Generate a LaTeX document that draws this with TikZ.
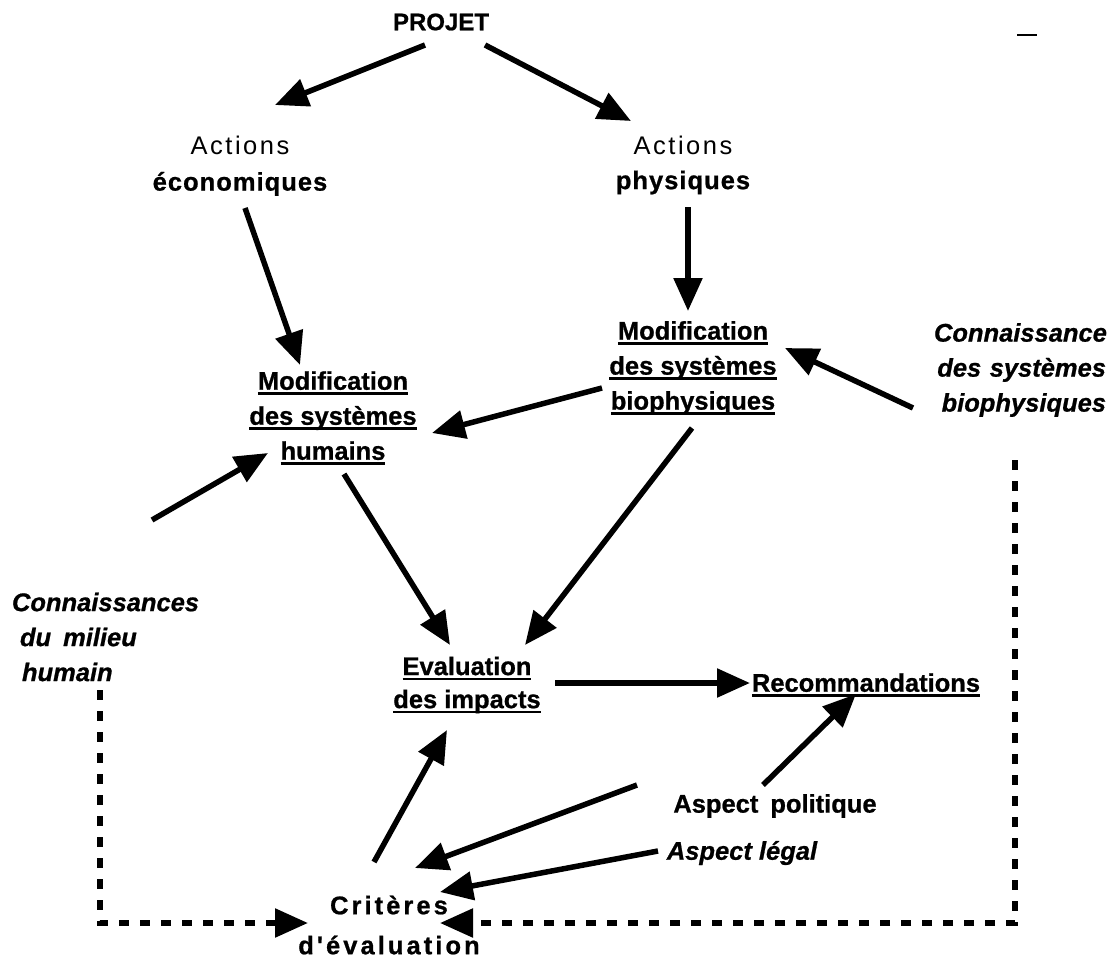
\documentclass[tikz,border=0pt]{standalone}
\usepackage{fontspec}
\setmainfont{Liberation Sans}
\newfontfamily\critfont{Liberation Sans Bold}[LetterSpace=12,FakeBold=0.8]
\usetikzlibrary{arrows.meta,calc}
% underline at a fixed depth, crossing the descenders
\newcommand\ulx[1]{\setbox0\hbox{#1}\rlap{\rule[-5pt]{\wd0}{2.4pt}}\box0}
\newcommand\hv{\bfseries\addfontfeature{FakeBold=0.8}}
\begin{document}
\begin{tikzpicture}[x=1pt,y=-1pt,
  txt/.style={font=\fontsize{25.5}{35}\selectfont\hv, align=center, inner sep=0pt},
  itx/.style={font=\fontsize{25.5}{35}\selectfont\itshape\hv, inner sep=0pt},
  tip/.style={-{Triangle[length=33pt,width=28pt]}},
  arr/.style={line width=5.5pt, tip},
  dsh/.style={line width=5.5pt, dash pattern=on 10pt off 11pt, tip}]
\useasboundingbox (0,0) rectangle (1112,959);

% texts
\node[txt, font=\fontsize{24}{28}\selectfont\hv] (projet) at (441,22) {PROJET};
\node[txt, font=\fontsize{25.5}{36}\selectfont] (acteco) at (240,166)
  {{\addfontfeature{LetterSpace=10}Actions}\\{\hv\addfontfeature{LetterSpace=4}économiques}};
\node[txt, font=\fontsize{25.5}{35}\selectfont] (actphy) at (683,165)
  {{\addfontfeature{LetterSpace=10}Actions}\\{\hv\addfontfeature{LetterSpace=4}physiques}};
\node[txt] (modhum) at (333,418) {\ulx{Modification}\\\ulx{des systèmes}\\\ulx{humains}};
\node[txt] (modbio) at (693,368) {\ulx{Modification}\\\ulx{des systèmes}\\\ulx{biophysiques}};
\node[itx, align=right, text width=172pt] (conbio) at (1020,370)
  {Connaissance\\des systèmes\\biophysiques};
\node[itx, align=left, text width=190pt] (conhum) at (107,637)
  {Connaissances\\\hspace{8pt}du\hspace{12pt}milieu\\\hspace{10pt}humain};
\node[txt, font=\fontsize{25.5}{33}\selectfont\hv] (eval) at (467,685) {\ulx{Evaluation}\\\ulx{des impacts}};
\node[txt] (recom) at (866,685) {\ulx{Recommandations}};
\node[txt] (aspol) at (775,806) {Aspect\hspace{12pt}politique};
\node[itx] (asleg) at (742,853) {Aspect légal};
\node[txt, font=\fontsize{25.5}{40}\critfont] (crit) at (389,925)
  {Critères\\d'évaluation};

% arrows
\draw[arr] ($(projet)+(-16,23)$) -- ($(acteco)+(35,-61)$);
\draw[arr] ($(projet)+(44,23)$) -- ($(actphy)+(-52,-44)$);
\draw[arr] ($(acteco)+(5,42)$) -- ($(modhum)+(-33,-53)$);
\draw[arr] ($(actphy)+(5,42)$) -- ($(modbio)+(-5,-57)$);
\draw[arr] ($(modbio)+(-91,20)$) -- ($(modhum)+(99,15)$);
\draw[arr] ($(conbio)+(-107,38)$) -- ($(modbio)+(92,-20)$);
\draw[arr] ($(modbio)+(-1,60)$) -- ($(eval)+(58,-40)$);
\draw[arr] ($(modhum)+(11,56)$) -- ($(eval)+(-17,-40)$);
\draw[arr] ($(conhum)+(45,-117)$) -- ($(modhum)+(-65,35)$);
\draw[arr] ($(eval)+(88,-2)$) -- ($(recom)+(-116,-2)$);
\draw[arr] ($(aspol)+(-12,-21)$) -- ($(recom)+(-10,9)$);
\draw[arr] ($(crit)+(-15,-63)$) -- ($(eval)+(-20,45)$);
\draw[arr] ($(aspol)+(-138,-21)$) -- ($(crit)+(26,-57)$);
\draw[arr] ($(asleg)+(-84,-2)$) -- ($(crit)+(51,-33)$);

% dashed feedback links
\draw[dsh] ($(conhum)+(-7,53)$) |- ($(crit)+(-81,-2)$);
\draw[dsh] ($(conbio)+(-5,90)$) |- ($(crit)+(51,-2)$);

% small stroke in the upper right corner
\draw[line width=2pt] (1017,35) -- (1037,35);
\end{tikzpicture}
\end{document}
